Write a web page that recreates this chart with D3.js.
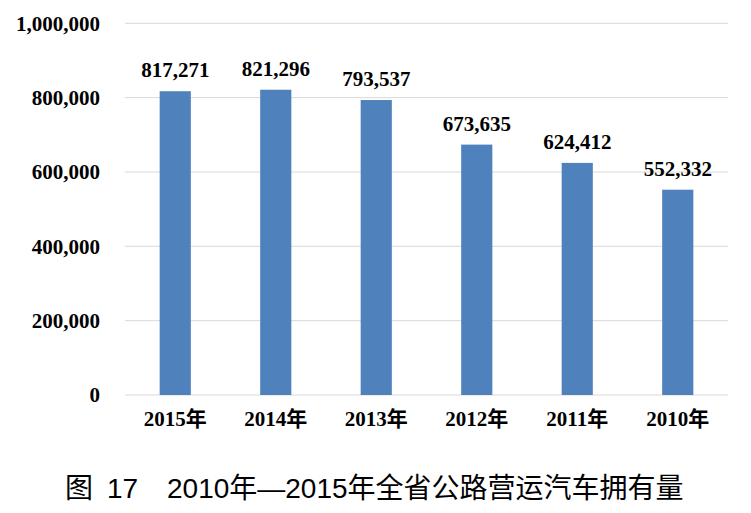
<!DOCTYPE html>
<html><head><meta charset="utf-8">
<script src="https://cdn.jsdelivr.net/npm/d3@7"></script>
<style>body{margin:0;background:#fff}</style>
</head><body>
<svg id="c" width="751" height="513"></svg>
<script>
const categories = ["2015年","2014年","2013年","2012年","2011年","2010年"];
const values = [817271, 821296, 793537, 673635, 624412, 552332];
const yTicks = [0, 200000, 400000, 600000, 800000, 1000000];
const titleParts = ["图", "17", "2010年—2015年全省公路营运汽车拥有量"];

const svg = d3.select("#c");
const W = 751, H = 513;
const m = {left:125, right:23, top:23.3, bottom:118};
const x = d3.scaleBand().domain(categories).range([m.left, W - m.right]).paddingInner(0.69).paddingOuter(0.345);
const y = d3.scaleLinear().domain([0, 1000000]).range([395, 23.3]);
const fmt = d3.format(",");
const serif = "'Times New Roman','Liberation Serif','Noto Sans CJK SC',serif";
const fs = 21;

// gridlines
svg.append("g").selectAll("line").data(yTicks).join("line")
  .attr("x1", m.left).attr("x2", W - m.right)
  .attr("y1", d => y(d)).attr("y2", d => y(d))
  .attr("stroke", "#d9d9d9").attr("stroke-width", 1);

// y axis
const ya = svg.append("g").attr("transform", `translate(${m.left},0)`)
  .call(d3.axisLeft(y).tickValues(yTicks).tickFormat(fmt).tickSize(0).tickPadding(25));
ya.select(".domain").remove();
ya.selectAll("text").attr("font-family", serif).attr("font-weight", "bold").attr("font-size", fs).attr("fill", "#000");

// x axis
const xa = svg.append("g").attr("transform", `translate(0,395)`)
  .call(d3.axisBottom(x).tickSize(0).tickPadding(16));
xa.select(".domain").remove();
xa.selectAll("text").attr("font-family", serif).attr("font-weight", "bold").attr("font-size", fs).attr("fill", "#000");

// bars
svg.append("g").selectAll("rect").data(values).join("rect")
  .attr("x", (d,i) => x(categories[i])).attr("width", x.bandwidth())
  .attr("y", d => y(d)).attr("height", d => y(0) - y(d))
  .attr("fill", "#4f81bd");

// labels
svg.append("g").selectAll("text").data(values).join("text")
  .attr("x", (d,i) => x(categories[i]) + x.bandwidth()/2)
  .attr("y", d => y(d) - 14)
  .attr("text-anchor", "middle")
  .attr("font-family", serif).attr("font-weight", "bold").attr("font-size", fs)
  .text(d => fmt(d));

// title
const tx = [65, 107, 167];
const t = svg.append("text").attr("y", 498)
  .attr("font-family", "'Liberation Sans','Noto Sans CJK SC',sans-serif").attr("font-size", 28);
titleParts.forEach((p, i) => t.append("tspan").attr("x", tx[i]).text(p));
</script>
</body></html>
